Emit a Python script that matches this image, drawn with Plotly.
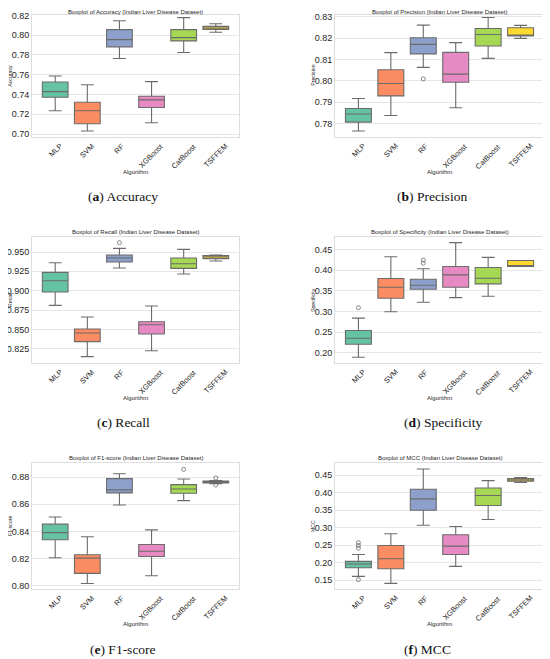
import plotly.graph_objects as go
from plotly.subplots import make_subplots

# the page puts the figure 8px in from the top-left corner, so the figure is that much smaller
OFF = 8
W, H = 550 - OFF, 659 - OFF

algorithms = ["MLP", "SVM", "RF", "XGBoost", "CatBoost", "TSFFEM"]
colors = ["#66c2a5", "#fc8d62", "#8da0cb", "#e78ac3", "#a6d854", "#ffd92f"]

# box statistics (lower whisker, q1, median, q3, upper whisker)
accuracy_lower = [0.7235, 0.7030, 0.7764, 0.7114, 0.7825, 0.8029]
accuracy_q1 = [0.7372, 0.7104, 0.7882, 0.7268, 0.7942, 0.8059]
accuracy_median = [0.7429, 0.7235, 0.7955, 0.7345, 0.7975, 0.8073]
accuracy_q3 = [0.7526, 0.7322, 0.8056, 0.7382, 0.8056, 0.8089]
accuracy_upper = [0.7587, 0.7499, 0.8146, 0.7530, 0.8177, 0.8116]
accuracy_outliers = {}

precision_lower = [0.7764, 0.7837, 0.8063, 0.7873, 0.8105, 0.8199]
precision_q1 = [0.7806, 0.7929, 0.8126, 0.7993, 0.8163, 0.8210]
precision_median = [0.7844, 0.7987, 0.8171, 0.8031, 0.8217, 0.8213]
precision_q3 = [0.7870, 0.8052, 0.8202, 0.8133, 0.8245, 0.8249]
precision_upper = [0.7917, 0.8132, 0.8261, 0.8179, 0.8297, 0.8260]
precision_outliers = {"RF": [0.8009]}

recall_lower = [0.8810, 0.8147, 0.9293, 0.8224, 0.9216, 0.9384]
recall_q1 = [0.8983, 0.8341, 0.9371, 0.8440, 0.9289, 0.9414]
recall_median = [0.9129, 0.8453, 0.9422, 0.8560, 0.9349, 0.9435]
recall_q3 = [0.9237, 0.8504, 0.9461, 0.8599, 0.9422, 0.9453]
recall_upper = [0.9362, 0.8659, 0.9547, 0.8802, 0.9534, 0.9461]
recall_outliers = {"RF": [0.9621]}

specificity_lower = [0.1895, 0.2995, 0.3222, 0.3335, 0.3367, 0.4087]
specificity_q1 = [0.2210, 0.3319, 0.3537, 0.3586, 0.3667, 0.4087]
specificity_median = [0.2356, 0.3586, 0.3634, 0.3885, 0.3804, 0.4095]
specificity_q3 = [0.2542, 0.3796, 0.3780, 0.4087, 0.4063, 0.4233]
specificity_upper = [0.2841, 0.4322, 0.4031, 0.4662, 0.4306, 0.4233]
specificity_outliers = {"MLP": [0.3092], "RF": [0.4168, 0.4241]}

f1_lower = [0.8206, 0.8017, 0.8594, 0.8073, 0.8626, 0.8751]
f1_q1 = [0.8338, 0.8091, 0.8683, 0.8215, 0.8680, 0.8756]
f1_median = [0.8391, 0.8203, 0.8705, 0.8254, 0.8712, 0.8763]
f1_q3 = [0.8453, 0.8228, 0.8788, 0.8303, 0.8744, 0.8771]
f1_upper = [0.8506, 0.8360, 0.8824, 0.8411, 0.8785, 0.8773]
f1_outliers = {"CatBoost": [0.8856], "TSFFEM": [0.8793, 0.8741]}

mcc_lower = [0.1605, 0.1405, 0.3071, 0.1890, 0.3233, 0.4295]
mcc_q1 = [0.1852, 0.1824, 0.3500, 0.2233, 0.3633, 0.4329]
mcc_median = [0.1957, 0.2110, 0.3824, 0.2471, 0.3919, 0.4367]
mcc_q3 = [0.2033, 0.2490, 0.4100, 0.2795, 0.4138, 0.4405]
mcc_upper = [0.2233, 0.2824, 0.4681, 0.3033, 0.4348, 0.4438]
mcc_outliers = {"MLP": [0.2410, 0.2490, 0.2570, 0.1510]}

panels = [
    ("Accuracy", "a", accuracy_lower, accuracy_q1, accuracy_median, accuracy_q3, accuracy_upper,
     accuracy_outliers, [0.70, 0.72, 0.74, 0.76, 0.78, 0.80, 0.82], ".2f", [0.697, 0.8209]),
    ("Precision", "b", precision_lower, precision_q1, precision_median, precision_q3, precision_upper,
     precision_outliers, [0.78, 0.79, 0.80, 0.81, 0.82, 0.83], ".2f", [0.7736, 0.8311]),
    ("Recall", "c", recall_lower, recall_q1, recall_median, recall_q3, recall_upper,
     recall_outliers, [0.825, 0.850, 0.875, 0.900, 0.925, 0.950], ".3f", [0.8065, 0.9694]),
    ("Specificity", "d", specificity_lower, specificity_q1, specificity_median, specificity_q3,
     specificity_upper, specificity_outliers, [0.20, 0.25, 0.30, 0.35, 0.40, 0.45], ".2f", [0.1757, 0.4799]),
    ("F1-score", "e", f1_lower, f1_q1, f1_median, f1_q3, f1_upper,
     f1_outliers, [0.80, 0.82, 0.84, 0.86, 0.88], ".2f", [0.7976, 0.8903]),
    ("MCC", "f", mcc_lower, mcc_q1, mcc_median, mcc_q3, mcc_upper,
     mcc_outliers, [0.15, 0.20, 0.25, 0.30, 0.35, 0.40, 0.45], ".2f", [0.1243, 0.4852]),
]

# frame positions in page pixels: (left, right), (top, bottom)
col_px = [(32, 239), (335, 544)]
row_px = [(14.5, 137), (237, 363), (463, 589)]
ylabel_x = [10, 313]
caption_x = [[123, 432], [123, 443], [123, 427]]
caption_y = [197, 422, 649]

sans = "Liberation Sans"
serif = "Liberation Serif"
line_gray = "#6b6b6b"
text_col = "#262626"


def px(x):
    return (x - OFF) / W


def py(y):
    return 1 - (y - OFF) / H


fig = make_subplots(rows=3, cols=2)
annotations = []

for i, (name, letter, lo, q1, med, q3, up, outl, ticks, fmt, yr) in enumerate(panels):
    r, c = i // 2, i % 2
    xref = "x" if i == 0 else f"x{i + 1}"
    for j, alg in enumerate(algorithms):
        fig.add_trace(go.Box(
            x=[alg], q1=[q1[j]], median=[med[j]], q3=[q3[j]],
            lowerfence=[lo[j]], upperfence=[up[j]],
            fillcolor=colors[j], line=dict(color=line_gray, width=1.1),
            width=0.8, whiskerwidth=0.5, boxpoints=False, showlegend=False,
        ), row=r + 1, col=c + 1)
        if alg in outl:
            fig.add_trace(go.Scatter(
                x=[alg] * len(outl[alg]), y=outl[alg], mode="markers",
                marker=dict(symbol="circle-open", size=4, color=line_gray, line=dict(width=0.8)),
                showlegend=False,
            ), row=r + 1, col=c + 1)

    (x0, x1), (y0, y1) = col_px[c], row_px[r]
    fig.update_xaxes(domain=[px(x0), px(x1)], type="category", categoryorder="array",
                     categoryarray=algorithms, showticklabels=False, showgrid=False,
                     showline=True, mirror=True, linecolor="#dedede", linewidth=1,
                     ticks="", automargin=False, row=r + 1, col=c + 1)
    fig.update_yaxes(domain=[py(y1), py(y0)], range=yr, tickvals=ticks, tickformat=fmt,
                     showgrid=True, gridcolor="#e6e6e6", gridwidth=1, zeroline=False,
                     showline=True, mirror=True, linecolor="#dedede", linewidth=1,
                     ticks="", tickfont=dict(family=sans, size=9, color=text_col),
                     automargin=False, row=r + 1, col=c + 1)

    # rotated category labels, centred under each box like matplotlib does
    for alg in algorithms:
        annotations.append(dict(
            text=alg, x=alg, xref=xref, y=py(y1 + 2), yref="paper",
            xanchor="center", yanchor="top", textangle=-45, showarrow=False,
            font=dict(family=sans, size=7.5, color=text_col)))

    if r == 0:
        title_y, title_anchor = 1, "top"
    else:
        title_y, title_anchor = py(y0 - 1.5), "bottom"
    annotations.append(dict(
        text=f"Boxplot of {name} (Indian Liver Disease Dataset)", x=px((x0 + x1) / 2), y=title_y,
        xref="paper", yref="paper", xanchor="center", yanchor=title_anchor, showarrow=False,
        borderpad=0, font=dict(family=sans, size=6, color=text_col)))
    annotations.append(dict(
        text="Algorithm", x=px((x0 + x1) / 2), y=py(y1 + 35),
        xref="paper", yref="paper", xanchor="center", yanchor="middle", showarrow=False,
        font=dict(family=sans, size=6, color=text_col)))
    annotations.append(dict(
        text=name, x=px(ylabel_x[c]), y=py((y0 + y1) / 2), textangle=-90,
        xref="paper", yref="paper", xanchor="center", yanchor="middle", showarrow=False,
        borderpad=0, font=dict(family=sans, size=5.2, color=text_col)))
    annotations.append(dict(
        text=f"(<b>{letter}</b>) {name}", x=px(caption_x[r][c]), y=py(caption_y[r]),
        xref="paper", yref="paper", xanchor="center", yanchor="middle", showarrow=False,
        font=dict(family=serif, size=13.5, color="#111111")))

fig.update_layout(
    width=W, height=H, margin=dict(l=0, r=0, t=0, b=0),
    paper_bgcolor="white", plot_bgcolor="white",
    boxmode="overlay", annotations=annotations,
)

fig.write_html("out.html")
